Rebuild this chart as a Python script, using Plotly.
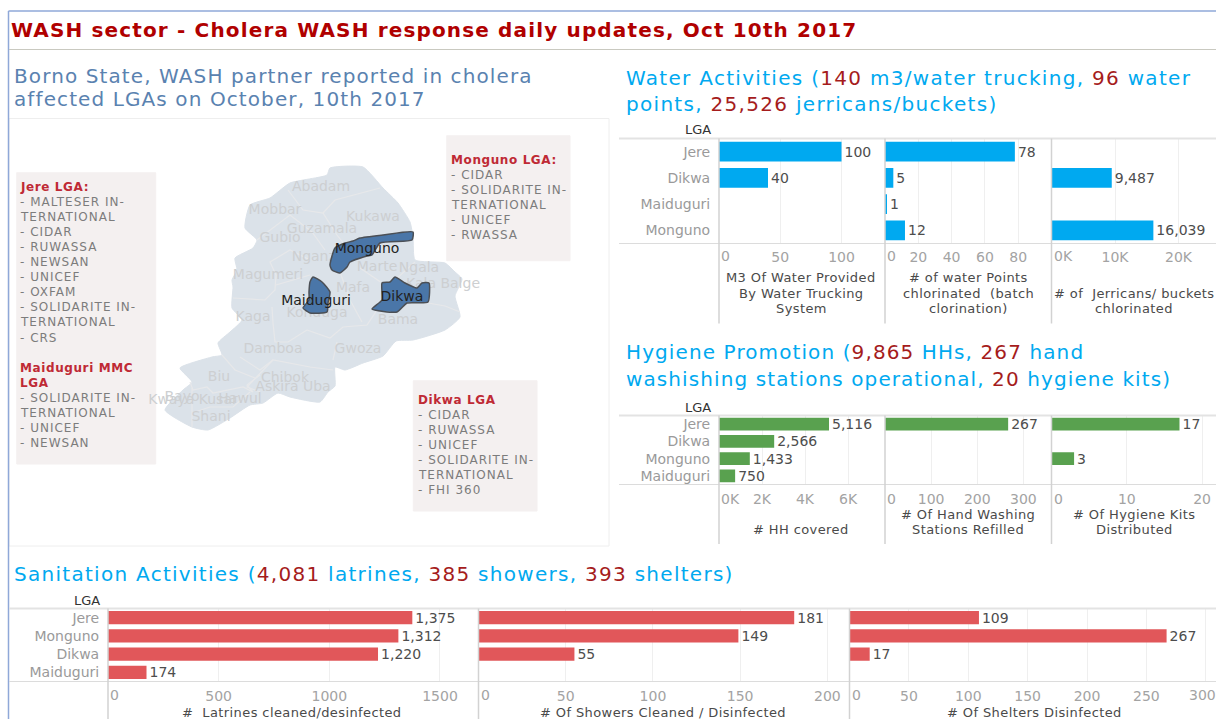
import plotly.graph_objects as go

W, H = 1216, 719
FONT = "DejaVu Sans"
BLUE = "#00a9f0"; GREEN = "#59a14f"; RED = "#e1575a"; NUM = "#a51c1c"
TICK = "#a3a3a3"; LAB = "#4a4a4a"; CAT = "#9a9a9a"; LINE = "#dcdcdc"

# ---------- chart data ----------
water_lga = ["Jere", "Dikwa", "Maiduguri", "Monguno"]
water_trucking = [100, 40, None, None]
water_points = [78, 5, 1, 12]
water_jerricans = [None, 9487, None, 16039]

hyg_lga = ["Jere", "Dikwa", "Monguno", "Maiduguri"]
hyg_hh = [5116, 2566, 1433, 750]
hyg_stations = [267, None, None, None]
hyg_kits = [17, None, 3, None]

san_lga = ["Jere", "Monguno", "Dikwa", "Maiduguri"]
san_latrines = [1375, 1312, 1220, 174]
san_showers = [181, 149, 55, None]
san_shelters = [109, 267, 17, None]

# ---------- map data (outline vertices) ----------
borno_x = [330,363,383,398,410,413,415,445,455,462,455,460,445,413,396,383,363,345,335,335,328,320,290,278,263,250,230,208,192,165,183,192,180,212,222,218,230,242,232,233,232,237,235,253,257,245,250,270,290,327]
borno_y = [168,167,188,203,222,237,260,263,272,279,296,317,330,340,341,356,363,370,367,386,392,402,397,393,403,405,418,430,427,410,390,382,368,357,355,343,332,320,308,287,280,270,258,248,240,228,205,198,183,175]
border_x = [288,303,323,335,380,None,257,290,312,325,None,323,337,345,None,233,265,275,276,270,290,310,None,276,310,None,340,350,362,None,360,385,395,415,None,428,445,460,None,307,330,343,367,377,None,337,333,None,272,273,275,288,307,None,240,260,273,310,333,None,273,257,247,260,None,222,235,255,None,190,193,207,213,243,253,247,260,None,192,210,233,250,None,192,192]
border_y = [190,210,213,200,188,None,240,215,232,250,None,213,235,245,None,298,300,290,275,262,250,260,None,285,275,None,272,300,322,None,268,285,280,262,None,303,306,312,None,330,338,327,325,310,None,342,360,None,307,323,342,342,330,None,357,370,360,367,370,None,360,377,387,392,None,355,370,378,None,382,390,387,393,387,392,385,375,None,413,407,407,392,None,388,427]
monguno_x = [413,412,380,372,367,350,347,340,332,330,335,345,353,360,383]
monguno_y = [232,240,243,255,256,262,267,273,270,265,248,243,241,238,235]
maiduguri_x = [313,322,330,328,327,310,303,309,309,310]
maiduguri_y = [277,282,292,303,312,313,308,300,292,282]
dikwa_x = [395,405,417,422,429,428,407,397,372,382,382,390]
dikwa_y = [277,283,288,283,283,302,303,312,309,300,283,282]

lga_names = ["Abadam","Mobbar","Kukawa","Guzamala","Gubio","Nganzai","Magumeri","Marte","Ngala","Kala Balge","Mafa","Konduga","Kaga","Bama","Damboa","Gwoza","Biu","Chibok","Askira Uba","Hawul","Bayo","Kwaya Kusar","Shani"]
lga_x = [321,275,373,322,280,320,268,377,419,443,353,317,253,398,273,358,219,285,293,240,182,193,211]
lga_y = [187,210,217,229,238,257,275,267,268,284,288,313,317,320,349,349,377,378,387,399,397,400,417]
hi_names = ["Monguno","Dikwa","Maiduguri"]
hi_x = [367,402,316]
hi_y = [249,297,301]

# ---------- text ----------
main_title = "WASH sector - Cholera WASH response daily updates, Oct 10th 2017"
map_title = ["Borno State, WASH partner reported in cholera", "affected LGAs on October, 10th 2017"]
def n(v):
    return f'<span style="color:{NUM}">{v}</span>'
water_title = [f"Water Activities ({n('140')} m3/water trucking, {n('96')} water", f"points, {n('25,526')} jerricans/buckets)"]
hyg_title = [f"Hygiene Promotion ({n('9,865')} HHs, {n('267')} hand", f"washishing stations operational, {n('20')} hygiene kits)"]
san_title = f"Sanitation Activities ({n('4,081')} latrines, {n('385')} showers, {n('393')} shelters)"

jere_box = [("Jere LGA:",1),("- MALTESER IN-",0),("TERNATIONAL",0),("- CIDAR",0),("- RUWASSA",0),("- NEWSAN",0),("- UNICEF",0),("- OXFAM",0),("- SOLIDARITE IN-",0),("TERNATIONAL",0),("- CRS",0),("",0),("Maiduguri MMC",1),("LGA",1),("- SOLIDARITE IN-",0),("TERNATIONAL",0),("- UNICEF",0),("- NEWSAN",0)]
monguno_box = [("Monguno LGA:",1),("- CIDAR",0),("- SOLIDARITE IN-",0),("TERNATIONAL",0),("- UNICEF",0),("- RWASSA",0)]
dikwa_box = [("Dikwa LGA",1),("- CIDAR",0),("- RUWASSA",0),("- UNICEF",0),("- SOLIDARITE IN-",0),("TERNATIONAL",0),("- FHI 360",0)]

fig = go.Figure()
ann = []; shapes = []; layout = {}

def px(x): return x / W
def py(y): return 1 - y / H
def text(x, y, s, size=13, color=LAB, anchor="left", bold=False, spacing=0):
    if bold:
        s = f"<b>{s}</b>"
    if spacing:
        s = f'<span style="letter-spacing:{spacing}px">{s}</span>'
    ann.append(dict(xref="paper", yref="paper", x=px(x), y=py(y), text=s, showarrow=False,
                    xanchor=anchor, yanchor="middle", borderpad=0, borderwidth=0,
                    font=dict(family=FONT, size=size, color=color)))
def line(x0, y0, x1, y1, color=LINE, width=1):
    shapes.append(dict(type="line", xref="paper", yref="paper", x0=px(x0), x1=px(x1), y0=py(y0), y1=py(y1),
                       line=dict(color=color, width=width), layer="above"))
def rect(x0, y0, x1, y1, fill, border=None):
    shapes.append(dict(type="rect", xref="paper", yref="paper", x0=px(x0), x1=px(x1), y0=py(y0), y1=py(y1),
                       fillcolor=fill, line=dict(color=border or fill, width=1), layer="below"))

idx = [0]
def pane(cats, vals, color, x0, x1, top, bottom, xmax, tickvals, ticktext, bar_w, tick_y, first, ticklen=2, last_out=False):
    idx[0] += 1
    k = idx[0]
    sfx = "" if k == 1 else str(k)
    shown = [""] + ticktext[1:]
    if last_out:
        shown[-1] = ""
        text(x1, tick_y, ticktext[-1], 14, TICK, "right")
    fig.add_trace(go.Bar(y=cats, x=vals, orientation="h", marker=dict(color=color, line=dict(width=0)),
                         width=bar_w, xaxis="x" + sfx, yaxis="y" + sfx, texttemplate="%{x:,}",
                         textposition="outside", cliponaxis=False, constraintext="none",
                         textfont=dict(family=FONT, size=14, color="#4d4d4d"), hoverinfo="skip", showlegend=False))
    layout["xaxis" + sfx] = dict(domain=[px(x0), px(x1)], range=[0, xmax], anchor="y" + sfx, side="bottom",
                                 tickvals=tickvals, ticktext=shown, showgrid=True, gridcolor="#efefef",
                                 zeroline=False, showline=False, ticks="outside", ticklen=ticklen, tickcolor="rgba(0,0,0,0)",
                                 tickfont=dict(family=FONT, size=14, color=TICK))
    layout["yaxis" + sfx] = dict(domain=[py(bottom), py(top)], type="category", categoryorder="array",
                                 categoryarray=cats, range=[3.5, -0.5], anchor="x" + sfx, showgrid=False,
                                 zeroline=False, showline=False, showticklabels=first, ticks="outside" if first else "",
                                 ticklen=5, tickcolor="rgba(0,0,0,0)", tickfont=dict(family=FONT, size=14, color=CAT))
    text(x0 + 2, tick_y, ticktext[0], 14, TICK)

# water
wx = [(719, 885), (885, 1051.5), (1051.5, 1216)]
pane(water_lga, water_trucking, BLUE, *wx[0], 138.5, 243.5, 135.5, [0,50,100], ["0","50","100"], 0.76, 256, True, 1)
pane(water_lga, water_points, BLUE, *wx[1], 138.5, 243.5, 100, [0,20,40,60,80], ["0","20","40","60","80"], 0.76, 256, False, 1)
pane(water_lga, water_jerricans, BLUE, *wx[2], 138.5, 243.5, 25900, [0,10000,20000], ["0K","10K","20K"], 0.76, 256, False, 1)
# hygiene
pane(hyg_lga, hyg_hh, GREEN, *wx[0], 415.5, 484.5, 7720, [0,2000,4000,6000], ["0K","2K","4K","6K"], 0.73, 499, True)
pane(hyg_lga, hyg_stations, GREEN, *wx[1], 415.5, 484.5, 361, [0,100,200,300], ["0","100","200","300"], 0.73, 499, False)
pane(hyg_lga, hyg_kits, GREEN, *wx[2], 415.5, 484.5, 21.85, [0,10,20], ["0","10","20"], 0.73, 499, False)
# sanitation
sx = [(108, 478.5), (478.5, 849.5), (849.5, 1216)]
pane(san_lga, san_latrines, RED, *sx[0], 608.5, 681.5, 1674, [0,500,1000,1500], ["0","500","1000","1500"], 0.73, 695, True)
pane(san_lga, san_showers, RED, *sx[1], 608.5, 681.5, 212.7, [0,50,100,150,200], ["0","50","100","150","200"], 0.73, 695, False)
pane(san_lga, san_shelters, RED, *sx[2], 608.5, 681.5, 308.6, [0,50,100,150,200,250,300], ["0","50","100","150","200","250","300"], 0.73, 695, False, 2, True)

# map pane
fig.add_trace(go.Scatter(x=borno_x + borno_x[:1], y=borno_y + borno_y[:1], mode="lines", fill="toself", fillcolor="#dbe2e9",
                         line=dict(color="#dbe2e9", width=1, shape="spline", smoothing=0.5), xaxis="x10", yaxis="y10", hoverinfo="skip", showlegend=False))
fig.add_trace(go.Scatter(x=border_x, y=border_y, mode="lines", line=dict(color="#e7e8ea", width=1.2), connectgaps=False,
                         xaxis="x10", yaxis="y10", hoverinfo="skip", showlegend=False))
fig.add_trace(go.Scatter(x=lga_x, y=lga_y, mode="text", text=lga_names, textposition="middle center",
                         textfont=dict(family=FONT, size=14, color="#cdcfd1"), cliponaxis=False,
                         xaxis="x10", yaxis="y10", hoverinfo="skip", showlegend=False))
for xs, ys in [(monguno_x, monguno_y), (maiduguri_x, maiduguri_y), (dikwa_x, dikwa_y)]:
    fig.add_trace(go.Scatter(x=xs + xs[:1], y=ys + ys[:1], mode="lines", fill="toself", fillcolor="#4a76a8",
                             line=dict(color="#4b4f55", width=1.5, shape="spline", smoothing=0.5), xaxis="x10", yaxis="y10", hoverinfo="skip", showlegend=False))
fig.add_trace(go.Scatter(x=hi_x, y=hi_y, mode="text", text=hi_names, textposition="middle center",
                         textfont=dict(family=FONT, size=14, color="#222222"), cliponaxis=False,
                         xaxis="x10", yaxis="y10", hoverinfo="skip", showlegend=False))
layout["xaxis10"] = dict(domain=[px(9), px(609)], range=[9, 609], visible=False, anchor="y10")
layout["yaxis10"] = dict(domain=[py(546), py(118)], range=[546, 118], visible=False, anchor="x10")

# frame and panel decorations
rect(9, 118.5, 609, 546, "#ffffff", "#eeeeee")
rect(16.7, 172.7, 155.7, 464, "#f4f0f0")
rect(446.7, 135.7, 570, 260.7, "#f4f0f0")
rect(413.3, 380.7, 537, 511, "#f4f0f0")
line(8.5, 11, 1216, 11, "#8fa8d8", 1.5)
line(8.5, 11, 8.5, 719, "#8fa8d8", 1.5)
line(9, 49.5, 1216, 49.5, "#c9c9c0", 1)

for top, bottom, end, left, xs in [(138.5, 243.5, 323.5, 619, wx), (415.5, 484.5, 544, 619, wx), (608.5, 681.5, 719, 9, sx)]:
    line(left, top, 1216, top, "#e3e3e3", 2)
    line(left, bottom, 1216, bottom, "#dcdcdc", 1)
    for x0, _ in xs:
        line(x0, top, x0, end, "#d2d2d2", 1.5)

# text
text(11, 30, main_title, 20, "#b00000", bold=True, spacing=1.15)
text(14, 76, map_title[0], 20, "#5a82b0", spacing=1.1)
text(14, 99, map_title[1], 20, "#5a82b0", spacing=1.1)
text(626, 78, water_title[0], 20, BLUE, spacing=1.3)
text(626, 104, water_title[1], 20, BLUE, spacing=1.3)
text(626, 352, hyg_title[0], 20, BLUE, spacing=1.1)
text(626, 379, hyg_title[1], 20, BLUE, spacing=1.1)
text(14, 574, san_title, 20, BLUE, spacing=1.28)
text(711, 130, "LGA", 13, "#333333", "right")
text(711, 407.5, "LGA", 13, "#333333", "right")
text(100, 600, "LGA", 13, "#333333", "right")

for cx, rows in [(801, [(278,"M3 Of Water Provided"),(293,"By Water Trucking"),(308,"System")]),
                 (968, [(278,"# of water Points"),(293,"chlorinated  (batch"),(308,"clorination)")]),
                 (1134, [(293,"# of  Jerricans/ buckets"),(308,"chlorinated")]),
                 (801, [(529,"# HH covered")]),
                 (968, [(514,"# Of Hand Washing"),(529,"Stations Refilled")]),
                 (1134, [(514,"# Of Hygiene Kits"),(529,"Distributed")]),
                 (292, [(712,"#  Latrines cleaned/desinfected")]),
                 (663, [(712,"# Of Showers Cleaned / Disinfected")]),
                 (1034, [(712,"# Of Shelters Disinfected")])]:
    for y, s in rows:
        text(cx, y, s, 13, LAB, "center", spacing=0.4)

for bx, by, rows in [(20, 187, jere_box), (451, 160, monguno_box), (417.5, 400, dikwa_box)]:
    for i, (s, head) in enumerate(rows):
        if s:
            text(bx, by + 15.05 * i, s, 12, "#bf2a35" if head else "#7c7c7c", bold=bool(head), spacing=0.6 if head else 1)

fig.update_layout(width=W, height=H, margin=dict(l=0, r=0, t=0, b=0), paper_bgcolor="white",
                  plot_bgcolor="rgba(0,0,0,0)", showlegend=False, barmode="overlay",
                  annotations=ann, shapes=shapes, **layout)
fig.write_html("out.html", post_script="document.body.style.margin='0';document.body.style.overflow='hidden';",
               config={"displayModeBar": False})
